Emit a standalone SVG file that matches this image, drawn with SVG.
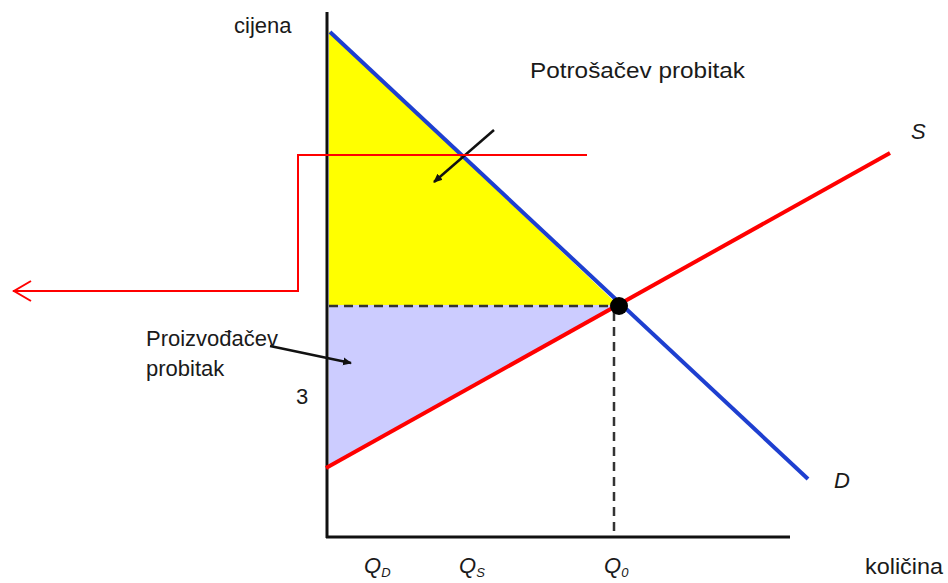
<svg xmlns="http://www.w3.org/2000/svg" width="948" height="583" viewBox="0 0 948 583">
<style>
text{font-family:"Liberation Sans",Arial,sans-serif;fill:#1a1a1a;font-size:22px}
.it{font-style:italic}
.ann{fill:none;stroke:#ff0000;stroke-width:2}
.dash{fill:none;stroke:#333;stroke-width:2.5;stroke-dasharray:9,6}
.blk{fill:none;stroke:#111;stroke-width:2.5}
</style>
<defs>
<marker id="ah" markerWidth="10" markerHeight="10" refX="8" refY="5" orient="auto" markerUnits="userSpaceOnUse">
<path d="M0,1 L9,5 L0,9 Z" fill="#111"/>
</marker>
</defs>
<rect width="948" height="583" fill="#fff"/>
<g id="areas">
<polygon points="329,31 618,305 329,305" fill="#ffff00"/>
<polygon points="329,305 618,305 329,467" fill="#ccccff"/>
</g>
<g id="axes">
<line x1="327" y1="12" x2="327" y2="538" stroke="#111" stroke-width="3"/>
<line x1="326" y1="537" x2="790" y2="537" stroke="#111" stroke-width="3"/>
</g>
<g id="connectors">
<line class="dash" x1="329" y1="306" x2="612" y2="306"/>
<line class="dash" x1="614" y1="312" x2="614" y2="535"/>
<line id="demand" x1="330" y1="32" x2="808" y2="479" stroke="#1e3fd0" stroke-width="4"/>
<line id="supply" x1="326" y1="468" x2="890" y2="153" stroke="#ff0000" stroke-width="4"/>
<line class="blk" x1="494" y1="130" x2="434" y2="182" marker-end="url(#ah)"/>
<line class="blk" x1="270" y1="346" x2="351" y2="363" marker-end="url(#ah)"/>
<polyline class="ann" points="587,155 298,155 298,291 13,291"/>
<polyline class="ann" points="31,281 14,291 31,301"/>
</g>
<g id="equilibrium">
<circle cx="619" cy="306" r="9" fill="#000"/>
</g>
<g id="labels">
<text x="234" y="33">cijena</text>
<text x="530" y="78" textLength="215" lengthAdjust="spacingAndGlyphs">Potrošačev probitak</text>
<text x="146" y="346" font-size="20">Proizvođačev</text>
<text x="146" y="376" font-size="20">probitak</text>
<text x="296" y="404">3</text>
<text class="it" x="911" y="139">S</text>
<text class="it" x="834" y="488">D</text>
<text class="it" x="364" y="573" font-size="20">Q<tspan font-size="13" dy="4">D</tspan></text>
<text class="it" x="459" y="573" font-size="20">Q<tspan font-size="13" dy="4">S</tspan></text>
<text class="it" x="604" y="573" font-size="20">Q<tspan font-size="13" dy="4">0</tspan></text>
<text x="865" y="574" textLength="78" lengthAdjust="spacingAndGlyphs">količina</text>
</g>
</svg>
